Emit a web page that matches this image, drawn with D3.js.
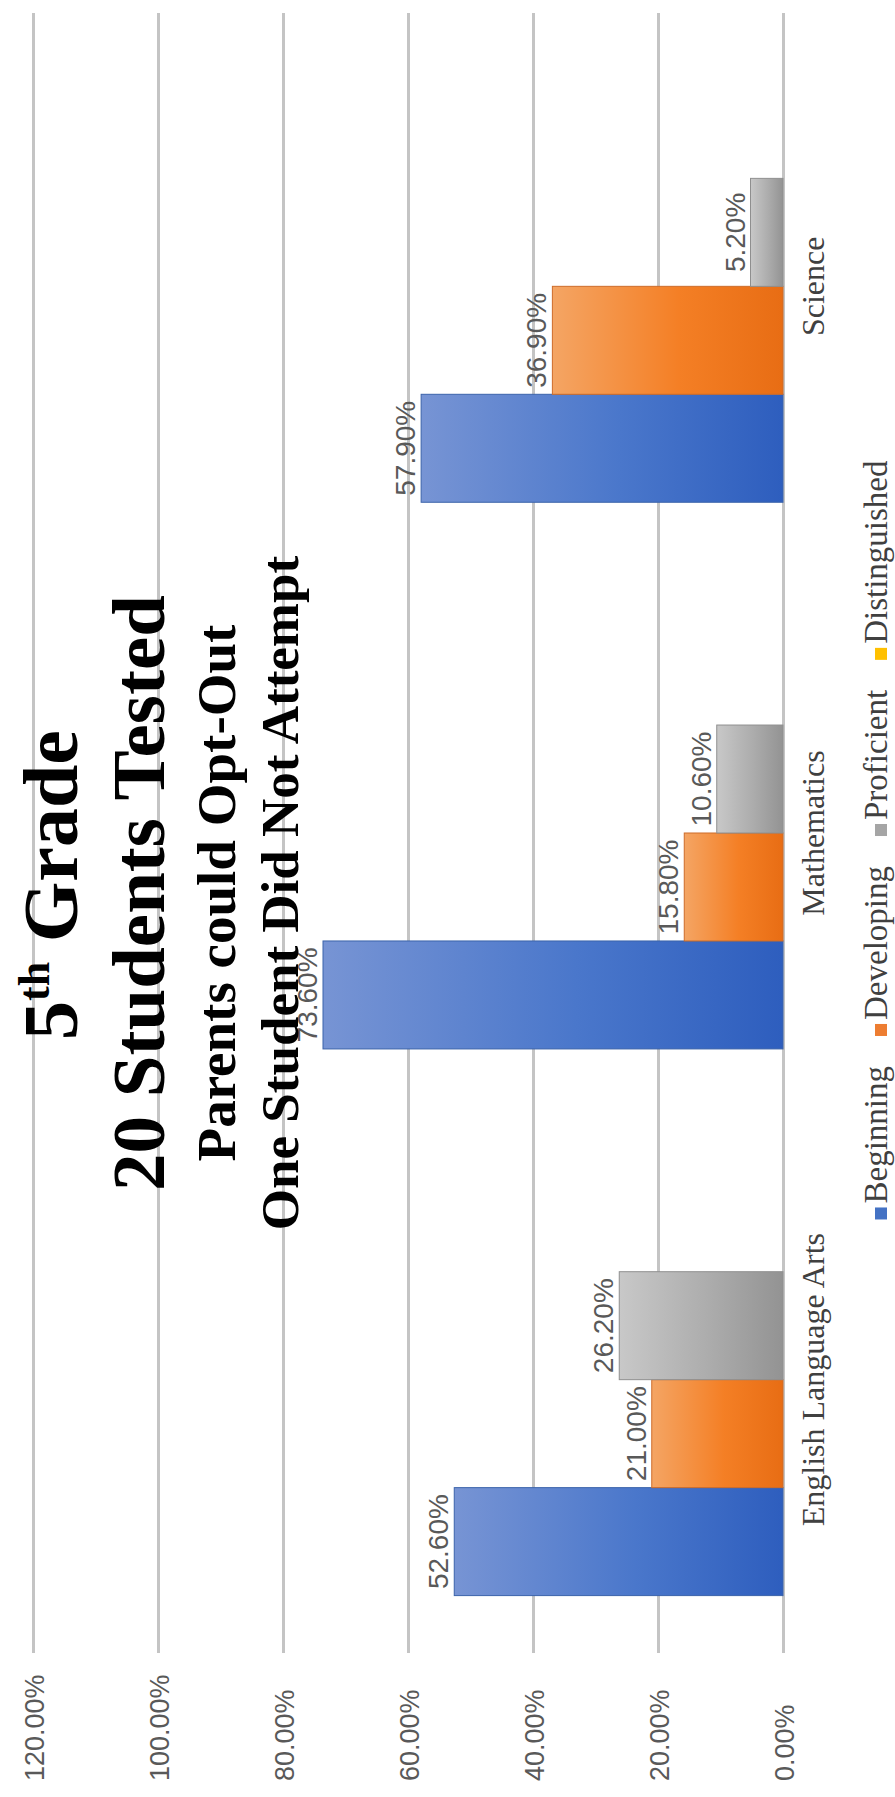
<!DOCTYPE html>
<html>
<head>
<meta charset="utf-8">
<script src="https://cdn.jsdelivr.net/npm/d3@7"></script>
<style>
  html, body { margin: 0; padding: 0; background: #ffffff; }
  svg { display: block; }
</style>
</head>
<body>
<script>
// ---- data ----
const categories = ["English Language Arts", "Mathematics", "Science"];
const series = ["Beginning", "Developing", "Proficient", "Distinguished"];
const beginning = [0.526, 0.736, 0.579];
const developing = [0.210, 0.158, 0.369];
const proficient = [0.262, 0.106, 0.052];
const distinguished = [0, 0, 0];
const tickValues = [0, 0.2, 0.4, 0.6, 0.8, 1.0, 1.2];
const titleLines = ["Grade", "20 Students Tested", "Parents could Opt-Out", "One Student Did Not Attempt"];

const seriesValues = [beginning, developing, proficient, distinguished];
const seriesColors = ["#4472c4", "#ed7d31", "#a5a5a5", "#ffc000"];
const gradStops = [
  ["#7794d4", "#4a77cb", "#2e5ebe"],
  ["#f4a564", "#f47f25", "#e86d14"],
  ["#c8c8c8", "#acacac", "#939393"],
  ["#ffd966", "#ffc000", "#e0a800"]
];

const W = 895, H = 1797;
const svg = d3.select("body").append("svg").attr("width", W).attr("height", H);

// gradients
const defs = svg.append("defs");
series.forEach((s, i) => {
  const g = defs.append("linearGradient").attr("id", "grad" + i)
    .attr("x1", "0").attr("y1", "0").attr("x2", "1").attr("y2", "0");
  g.append("stop").attr("offset", "0%").attr("stop-color", gradStops[i][0]);
  g.append("stop").attr("offset", "55%").attr("stop-color", gradStops[i][1]);
  g.append("stop").attr("offset", "100%").attr("stop-color", gradStops[i][2]);
});

// ---- scales (chart is rotated: values grow leftward, categories go bottom-to-top) ----
const plotTop = 13, plotBottom = 1653;
const x = d3.scaleLinear().domain([0, 1.2]).range([783, 33]);
const yCat = d3.scaleBand().domain(categories).range([plotBottom, plotTop])
  .paddingInner(0.21).paddingOuter(0.105);
const ySer = d3.scaleBand().domain(series).range([yCat.bandwidth(), 0]);

// ---- gridlines + value tick labels ----
const axis = d3.axisBottom(x).tickValues(tickValues).tickSize(-(plotBottom - plotTop))
  .tickFormat(d3.format(".2%"));
const ag = svg.append("g").attr("transform", `translate(0,${plotBottom})`).call(axis);
ag.select(".domain").remove();
ag.selectAll(".tick line").attr("stroke", "#c4c4c4").attr("stroke-width", 3);
ag.selectAll(".tick text")
  .attr("x", null).attr("y", null).attr("dy", null)
  .attr("transform", "translate(10,128) rotate(-90)")
  .attr("text-anchor", "start")
  .attr("fill", "#595959")
  .style("font-family", "'Liberation Sans', Arial, sans-serif")
  .style("font-size", "27px");

// ---- bars ----
const groups = svg.append("g").selectAll("g").data(categories).join("g")
  .attr("transform", d => `translate(0,${yCat(d)})`);

series.forEach((s, si) => {
  groups.append("rect")
    .attr("x", (d, ci) => x(seriesValues[si][ci]))
    .attr("y", ySer(s))
    .attr("width", (d, ci) => x(0) - x(seriesValues[si][ci]))
    .attr("height", ySer.bandwidth())
    .attr("fill", `url(#grad${si})`)
    .attr("stroke", d3.color(seriesColors[si]).darker(0.4))
    .attr("stroke-width", (d, ci) => seriesValues[si][ci] > 0 ? 1 : 0);
});

// ---- data labels ----
series.forEach((s, si) => {
  groups.filter((d, ci) => seriesValues[si][ci] > 0)
    .append("text")
    .attr("transform", (d) => {
      const ci = categories.indexOf(d);
      return `translate(${x(seriesValues[si][ci]) - 6},${ySer(s) + ySer.bandwidth() / 2}) rotate(-90)`;
    })
    .attr("text-anchor", "middle")
    .attr("fill", "#595959")
    .style("font-family", "'Liberation Sans', Arial, sans-serif")
    .style("font-size", "28px")
    .text(d => d3.format(".2%")(seriesValues[si][categories.indexOf(d)]));
});

// ---- category labels ----
svg.append("g").selectAll("text").data(categories).join("text")
  .attr("transform", d => `translate(824,${yCat(d) + yCat.bandwidth() / 2}) rotate(-90)`)
  .attr("text-anchor", "middle")
  .attr("fill", "#404040")
  .style("font-family", "'Liberation Serif', 'Times New Roman', serif")
  .style("font-size", "32px")
  .text(d => d);

// ---- title ----
const titleCy = 893;
const t1 = svg.append("text")
  .attr("transform", `translate(77,${titleCy - 8}) rotate(-90)`)
  .attr("text-anchor", "middle")
  .style("font-family", "'Liberation Serif', 'Times New Roman', serif")
  .style("font-weight", "bold").style("font-size", "78px").attr("fill", "#000");
t1.append("tspan").text("5");
t1.append("tspan").attr("dy", "-28").style("font-size", "44px").text("th");
t1.append("tspan").attr("dy", "28").text(" " + titleLines[0]);

const titleSpec = [
  { x: 164, size: 75 },
  { x: 235, size: 55 },
  { x: 298, size: 53 }
];
titleSpec.forEach((t, i) => {
  svg.append("text")
    .attr("transform", `translate(${t.x},${titleCy}) rotate(-90)`)
    .attr("text-anchor", "middle")
    .style("font-family", "'Liberation Serif', 'Times New Roman', serif")
    .style("font-weight", "bold").style("font-size", t.size + "px").attr("fill", "#000")
    .text(titleLines[i + 1]);
});

// ---- legend (rotated, reading bottom-to-top) ----
const legendFont = 33, markerSize = 12, markerGap = 4, itemGap = 30;
const legendG = svg.append("g");
const tmp = svg.append("text").style("font-family", "'Liberation Serif', 'Times New Roman', serif")
  .style("font-size", legendFont + "px");
const widths = series.map(s => { tmp.text(s); return tmp.node().getComputedTextLength(); });
tmp.remove();
const itemLens = widths.map(w => markerSize + markerGap + w);
const total = d3.sum(itemLens) + itemGap * (series.length - 1);
const legendCenter = 840;
let cursor = legendCenter + total / 2;
const legendBase = 887;
series.forEach((s, i) => {
  legendG.append("rect")
    .attr("x", legendBase - markerSize).attr("y", cursor - markerSize)
    .attr("width", markerSize).attr("height", markerSize)
    .attr("fill", seriesColors[i]);
  const ty = cursor - markerSize - markerGap;
  legendG.append("text")
    .attr("transform", `translate(${legendBase},${ty}) rotate(-90)`)
    .attr("text-anchor", "start")
    .attr("fill", "#404040")
    .style("font-family", "'Liberation Serif', 'Times New Roman', serif")
    .style("font-size", legendFont + "px")
    .text(s);
  cursor -= itemLens[i] + itemGap;
});
</script>
</body>
</html>
